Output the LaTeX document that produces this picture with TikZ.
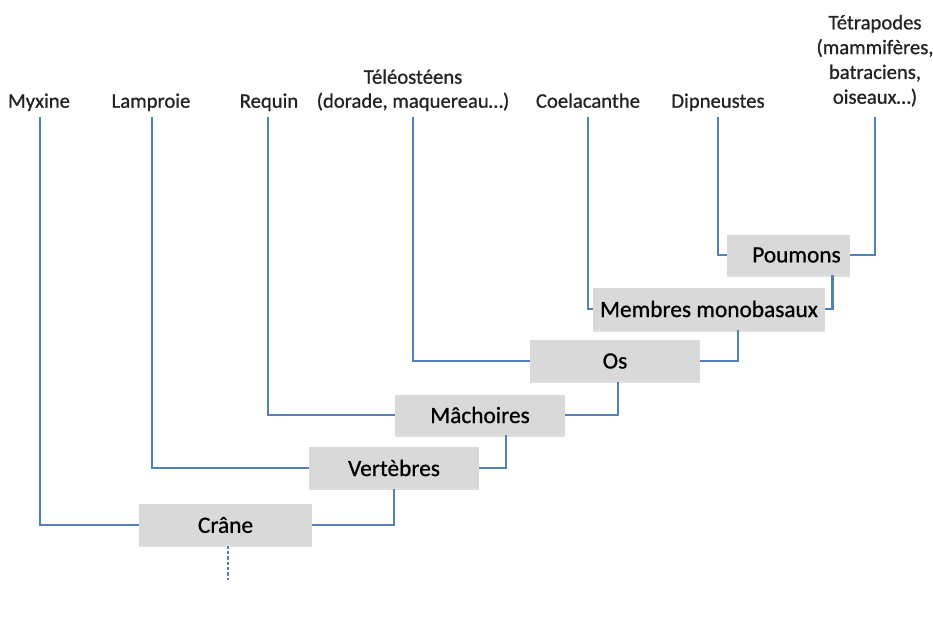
\documentclass[tikz,border=0pt]{standalone}
\usepackage{fontspec}
\setmainfont{Carlito}
\newfontfamily\heavyfont[FakeBold=0.8]{Carlito}
\usetikzlibrary{calc,shadows}
\definecolor{linkblue}{RGB}{84,128,184}
\definecolor{boxgray}{RGB}{217,217,217}
\definecolor{txtdark}{RGB}{35,35,35}
\tikzset{
  link/.style={draw=linkblue, line width=1.9pt},
  taxon/.style={anchor=south, inner sep=0pt, text depth=0pt, align=center,
    font=\heavyfont\fontsize{15.5pt}{18pt}\selectfont, text=txtdark},
  clade/.style={fill=boxgray, inner sep=0pt, text=black,
    font=\heavyfont\fontsize{17.5pt}{20pt}\selectfont,
    drop shadow={shadow xshift=0pt, shadow yshift=-1.2pt, opacity=0.25}}
}
\begin{document}
\begin{tikzpicture}[x=0.75pt, y=-0.75pt]
\useasboundingbox (0,0) rectangle (933,620);
% taxa labels
\node[taxon] (myx)  at (39,108)  {Myxine};
\node[taxon] (lamp) at (151,108) {Lamproie};
\node[taxon] (req)  at (269,108) {Requin};
\node[taxon] (tel)  at (413,108) {Téléostéens\\(dorade, maquereau…)};
\node[taxon] (coel) at (588,108) {Coelacanthe};
\node[taxon] (dip)  at (718,108) {Dipneustes};
\node[taxon, font=\heavyfont\fontsize{15.5pt}{18.6pt}\selectfont] (tet) at (875,104) {Tétrapodes\\(mammifères,\\batraciens,\\oiseaux…)};
% line tops
\coordinate (tmyx)  at (40,117);
\coordinate (tlamp) at (152,117);
\coordinate (treq)  at (268,117);
\coordinate (ttel)  at (413,117);
\coordinate (tcoel) at (588,117);
\coordinate (tdip)  at (718,117);
\coordinate (ttet)  at (875,117);
\coordinate (root)  at (228,580);
% clade boxes
\node[clade, minimum width=129.75pt, minimum height=30.75pt] (crane) at (225.5,525) {Crâne};
\node[clade, minimum width=127.5pt, minimum height=30.75pt] (vert) at (394,468) {Vertèbres};
\node[clade, minimum width=127.5pt, minimum height=30pt] (mach) at (480,415) {Mâchoires};
\node[clade, minimum width=127.5pt, minimum height=30.75pt] (os) at (615,361) {Os};
\node[clade, minimum width=174pt, minimum height=31.5pt] (memb) at (709,309) {Membres monobasaux};
\node[clade, minimum width=92.25pt, minimum height=30pt] (poum) at (788.5,255) {\hspace*{12pt}Poumons};
% connectors
\draw[link] (tmyx) |- (crane.west);
\draw[link] (crane.east) -| (vert.south);
\draw[link] (tlamp) |- (vert.west);
\draw[link] (vert.east) -| ($(mach.south)+(26,0)$);
\draw[link] (treq) |- (mach.west);
\draw[link] (mach.east) -| ($(os.south)+(3,0)$);
\draw[link] (ttel) |- (os.west);
\draw[link] (os.east) -| ($(memb.south)+(29,0)$);
\draw[link] (tcoel) |- (memb.west);
\draw[link] (memb.east) -| ($(poum.south)+(44,0)$);
\draw[link] (tdip) |- (poum.west);
\draw[link] (ttet) |- (poum.east);
\draw[link, dashed, dash pattern=on 2.5pt off 1.5pt] ($(crane.south)+(2.5,0)$) -- (root);
\end{tikzpicture}
\end{document}
